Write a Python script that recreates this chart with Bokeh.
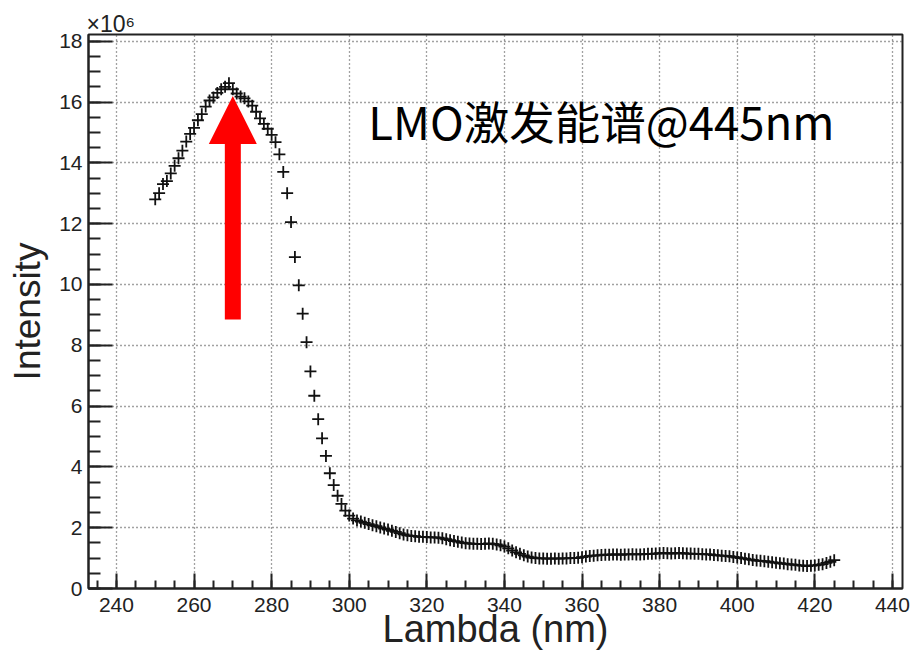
from bokeh.plotting import figure
from bokeh.models import Range1d, SingleIntervalTicker, Label, Arrow, NormalHead, Title
from bokeh.embed import file_html
from bokeh.resources import INLINE

# wavelength (nm), one point per nm
wavelength = list(range(250, 426))
# intensity in units of 1e6
intensity = [
    12.80, 13.00, 13.30, 13.40, 13.65, 13.90, 14.15, 14.40, 14.70, 14.95,   # 250-259
    15.15, 15.40, 15.60, 15.85, 16.05, 16.15, 16.30, 16.42, 16.50, 16.62,   # 260-269
    16.42, 16.28, 16.18, 16.12, 16.02, 15.88, 15.68, 15.46, 15.28, 15.12,   # 270-279
    14.92, 14.68, 14.28, 13.70, 13.00, 12.05, 10.90, 9.97, 9.04, 8.10,      # 280-289
    7.14, 6.34, 5.57, 4.94, 4.36, 3.79, 3.40, 3.05, 2.78, 2.56,             # 290-299
    2.40, 2.30, 2.24, 2.20, 2.16, 2.12, 2.08, 2.05, 2.01, 1.97,             # 300-309
    1.94, 1.90, 1.86, 1.82, 1.78, 1.75, 1.73, 1.72, 1.70, 1.70,             # 310-319
    1.69, 1.68, 1.68, 1.67, 1.65, 1.62, 1.59, 1.56, 1.54, 1.51,             # 320-329
    1.49, 1.48, 1.47, 1.47, 1.46, 1.47, 1.48, 1.47, 1.45, 1.42,             # 330-339
    1.38, 1.32, 1.25, 1.19, 1.14, 1.09, 1.05, 1.02, 1.00, 0.99,             # 340-349
    0.99, 0.98, 0.98, 0.99, 0.98, 0.99, 0.99, 1.00, 1.00, 1.01,             # 350-359
    1.03, 1.05, 1.07, 1.08, 1.09, 1.10, 1.11, 1.11, 1.12, 1.12,             # 360-369
    1.11, 1.12, 1.12, 1.13, 1.12, 1.12, 1.13, 1.14, 1.14, 1.15,             # 370-379
    1.16, 1.17, 1.16, 1.15, 1.16, 1.17, 1.16, 1.15, 1.15, 1.14,             # 380-389
    1.14, 1.13, 1.12, 1.12, 1.10, 1.09, 1.08, 1.07, 1.06, 1.04,             # 390-399
    1.02, 1.00, 0.98, 0.96, 0.94, 0.92, 0.91, 0.90, 0.88, 0.86,             # 400-409
    0.85, 0.83, 0.82, 0.80, 0.79, 0.78, 0.76, 0.75, 0.74, 0.75,             # 410-419
    0.76, 0.78, 0.80, 0.84, 0.88, 0.93,                                     # 420-425
]

x_major = 20
y_major = 2
x_title = "Lambda (nm)"
y_title = "Intensity"
annotation_text = "LMO激发能谱@445nm"
scale_text = "×10⁶"
arrow_x = 270
arrow_from = 8.85
arrow_to = 16.2

p = figure(width=913, height=650, output_backend="svg", toolbar_location=None,
           x_range=Range1d(232.8, 442.6), y_range=Range1d(0, 18.22),
           min_border_left=88, min_border_right=11, min_border_top=34, min_border_bottom=62,
           background_fill_color="white", border_fill_color="white")

p.title.text = scale_text
p.title.align = "left"
p.title.offset = -2
p.title.standoff = -5
p.title.text_font = "Liberation Sans"
p.title.text_font_size = "23px"
p.title.text_font_style = "normal"
p.title.text_color = "#222222"

p.outline_line_color = "#222222"
p.outline_line_width = 2

p.xaxis.ticker = SingleIntervalTicker(interval=x_major, num_minor_ticks=4)
p.yaxis.ticker = SingleIntervalTicker(interval=y_major, num_minor_ticks=4)

for ax in (p.xaxis, p.yaxis):
    ax.major_tick_out = 0
    ax.minor_tick_out = 0
    ax.axis_line_color = "#222222"
    ax.axis_line_width = 2
    ax.major_tick_line_color = "#222222"
    ax.major_tick_line_width = 2
    ax.minor_tick_line_color = "#222222"
    ax.minor_tick_line_width = 2
    ax.major_label_text_font = "Liberation Sans"
    ax.major_label_text_font_size = "21px"
    ax.major_label_text_color = "#222222"
    ax.axis_label_text_font = "Liberation Sans"
    ax.axis_label_text_font_style = "normal"
    ax.axis_label_text_color = "#222222"

p.xaxis.major_tick_in = 15
p.xaxis.minor_tick_in = 8
p.yaxis.major_tick_in = 24
p.yaxis.minor_tick_in = 12
p.xaxis.major_label_standoff = 9
p.yaxis.major_label_standoff = 6
p.yaxis.axis_label = y_title
p.yaxis.axis_label_text_font_size = "37px"
p.yaxis.axis_label_standoff = 8

p.add_layout(Title(text=x_title, align="center", vertical_align="bottom", standoff=-17,
                   text_font="Liberation Sans", text_font_size="38px",
                   text_font_style="normal", text_color="#222222"), "below")

for g in (p.xgrid, p.ygrid):
    g.grid_line_color = "#444444"
    g.grid_line_dash = "1 3"
    g.grid_line_width = 1.3

p.scatter(wavelength, intensity, marker="cross", size=12, line_color="#111111", line_width=1.8)

p.add_layout(Arrow(end=NormalHead(size=48, fill_color="#ff0000", line_color="#ff0000", line_width=0),
                   x_start=arrow_x, y_start=arrow_from, x_end=arrow_x, y_end=arrow_to,
                   line_color="#ff0000", line_width=16))

p.add_layout(Label(x=304.9, y=15.4, text=annotation_text, text_font="Noto Sans CJK SC",
                   text_font_size="45.5px", text_color="black", text_baseline="alphabetic"))

open("out.html", "w").write(file_html(p, INLINE))
